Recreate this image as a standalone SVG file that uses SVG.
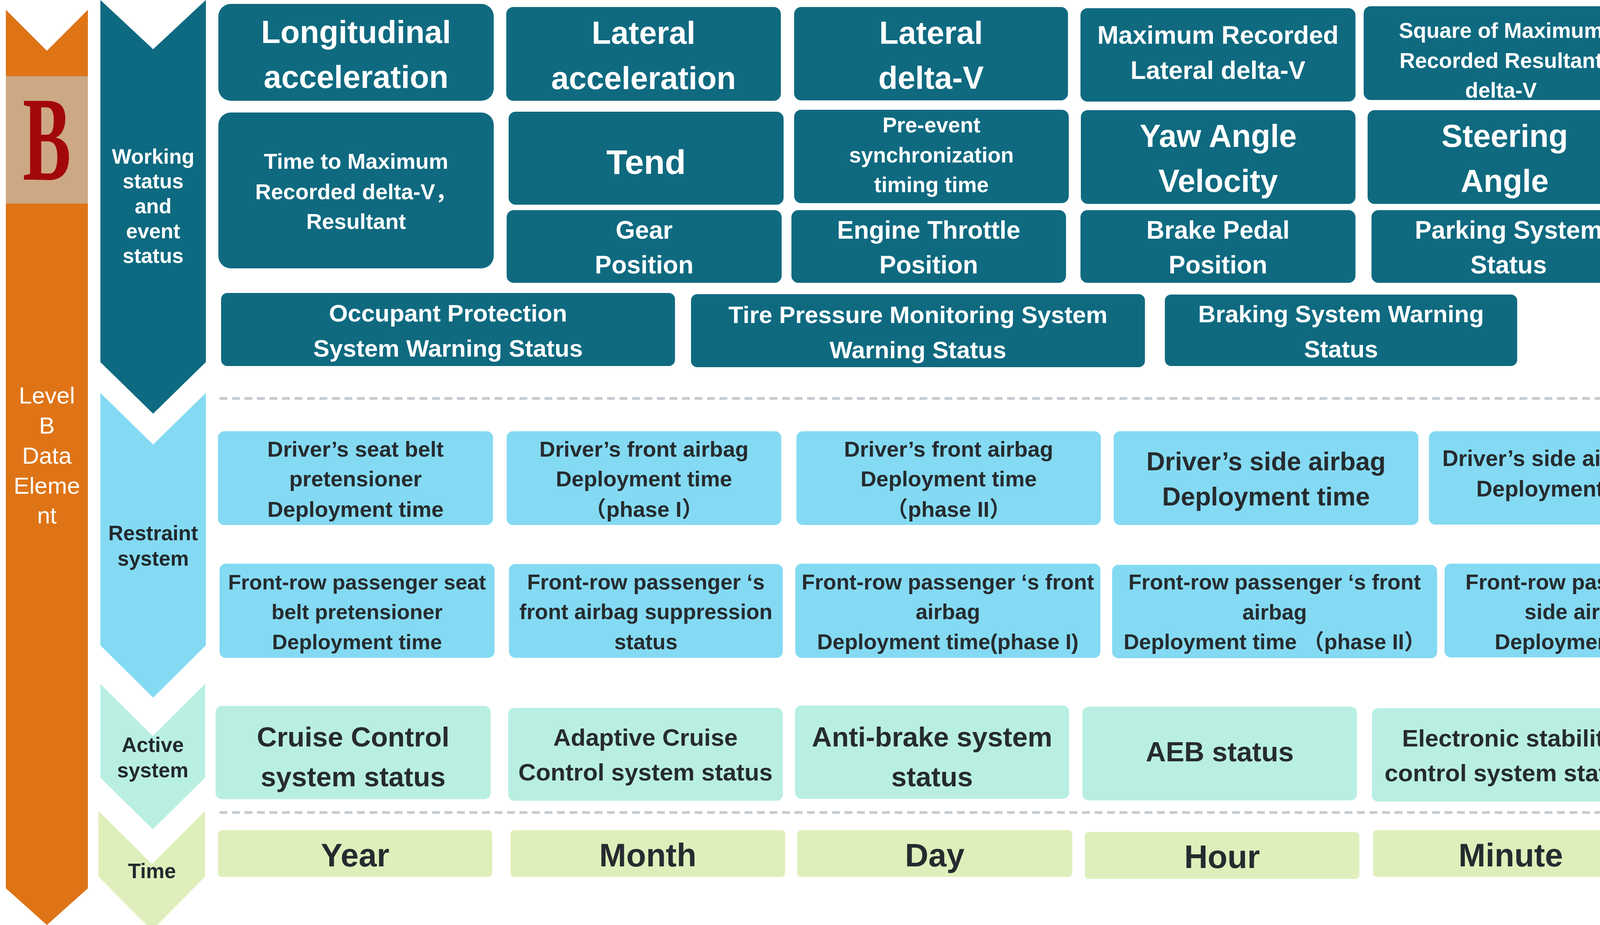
<svg xmlns="http://www.w3.org/2000/svg" width="5034" height="2368" viewBox="0 0 5034 2368" xml:space="preserve">
<style>
.bg{fill:#ffffff}
.n1{fill:#0F6A80}
.n2{fill:#84DAF2}
.n3{fill:#B9EFE2}
.n4{fill:#DFEFBB}
.tw{fill:#ffffff;font-family:"Liberation Sans","Noto Sans CJK SC",sans-serif;font-weight:bold;text-anchor:middle}
.td{fill:#262B2F;font-family:"Liberation Sans","Noto Sans CJK SC",sans-serif;font-weight:bold;text-anchor:middle}
.cw{fill:#ffffff;font-family:"Liberation Sans",sans-serif;font-weight:bold;font-size:53px;text-anchor:middle}
.cd{fill:#22292E;font-family:"Liberation Sans",sans-serif;font-weight:bold;font-size:53px;text-anchor:middle}
.lv{fill:#ffffff;font-family:"Liberation Sans",sans-serif;font-size:60px;text-anchor:middle}
.sep{stroke:#C5CBD0;stroke-width:7;stroke-dasharray:20 12;fill:none}
</style>
<rect class="bg" x="0" y="0" width="5034" height="2368"/>

<g id="level-b">
<polygon fill="#DF7417" points="15,25 120,130 225,25 225,2274 120,2368 15,2274"/>
<rect fill="#CDA885" x="15" y="195" width="210" height="326"/>
<text x="0" y="0" transform="translate(120,460) scale(0.6,1)" fill="#A30808" font-family="Liberation Serif,serif" font-weight="bold" font-size="308" text-anchor="middle">B</text>
<text class="lv" x="120" y="1033">Level</text>
<text class="lv" x="120" y="1110">B</text>
<text class="lv" x="120" y="1187">Data</text>
<text class="lv" x="120" y="1264">Eleme</text>
<text class="lv" x="120" y="1340">nt</text>
</g>

<g id="cat-working">
<polygon fill="#0E6A80" points="257,0 392,126 527,0 527,927 392,1059 257,927"/>
<text class="cw" x="392" y="419">Working</text>
<text class="cw" x="392" y="482">status</text>
<text class="cw" x="392" y="546">and</text>
<text class="cw" x="392" y="610">event</text>
<text class="cw" x="392" y="673">status</text>
</g>
<g id="cat-restraint">
<polygon fill="#84DAF2" points="257,1006 392,1138 527,1006 527,1652 392,1786 257,1652"/>
<text class="cd" x="392" y="1383">Restraint</text>
<text class="cd" x="392" y="1448">system</text>
</g>
<g id="cat-active">
<polygon fill="#B9EFE2" points="257,1751 391,1884 525,1751 525,1991 391,2123 257,1991"/>
<text class="cd" x="391" y="1925">Active</text>
<text class="cd" x="391" y="1990">system</text>
</g>
<g id="cat-time">
<polygon fill="#DFEFBB" points="252,2076 389,2212 525,2076 525,2244 389,2382 252,2244"/>
<text class="cd" x="389" y="2248">Time</text>
</g>

<g id="separators">
<line class="sep" x1="562" y1="1020" x2="4962" y2="1020"/>
<line class="sep" x1="562" y1="2080" x2="4962" y2="2080"/>
</g>

<g id="longitudinal-acceleration"><rect class="n1" x="559" y="10" width="705" height="248" rx="32"/>
<text class="tw" x="911.5" y="110" font-size="81">Longitudinal</text><text class="tw" x="911.5" y="225" font-size="81">acceleration</text></g>
<g id="lateral-acceleration"><rect class="n1" x="1296" y="18" width="703" height="240" rx="18"/>
<text class="tw" x="1647.5" y="112" font-size="81">Lateral</text><text class="tw" x="1647.5" y="228" font-size="81">acceleration</text></g>
<g id="lateral-delta-v"><rect class="n1" x="2033" y="18" width="701" height="239" rx="18"/>
<text class="tw" x="2383.5" y="112" font-size="81">Lateral</text><text class="tw" x="2383.5" y="227" font-size="81">delta-V</text></g>
<g id="max-lateral-delta-v"><rect class="n1" x="2766" y="21" width="704" height="239" rx="18"/>
<text class="tw" x="3118" y="112" font-size="65">Maximum Recorded</text><text class="tw" x="3118" y="202" font-size="65">Lateral delta-V</text></g>
<g id="square-max-resultant"><rect class="n1" x="3491" y="16" width="703" height="240" rx="18"/>
<text class="tw" x="3842.5" y="97" font-size="55">Square of Maximum</text><text class="tw" x="3842.5" y="174" font-size="55">Recorded Resultant</text><text class="tw" x="3842.5" y="250" font-size="55">delta-V</text></g>
<g id="time-max-lateral"><rect class="n1" x="4225" y="15" width="704" height="240" rx="18"/>
<text class="tw" x="4577" y="97" font-size="55">Time to Maximum</text><text class="tw" x="4577" y="174" font-size="55">Recorded delta-V</text><text class="tw" x="4577" y="250" font-size="55">lateral</text></g>

<g id="time-max-resultant"><rect class="n1" x="559" y="288" width="705" height="399" rx="32"/>
<text class="tw" x="911.5" y="432" font-size="56">Time to Maximum</text><text class="tw" x="911.5" y="510" font-size="56">Recorded delta-V，</text><text class="tw" x="911.5" y="586" font-size="56">Resultant</text></g>
<g id="tend"><rect class="n1" x="1302" y="286" width="704" height="238" rx="18"/>
<text class="tw" x="1654" y="445" font-size="88">Tend</text></g>
<g id="pre-event"><rect class="n1" x="2033" y="281" width="703" height="239" rx="18"/>
<text class="tw" x="2384.5" y="339" font-size="55">Pre-event</text><text class="tw" x="2384.5" y="416" font-size="55">synchronization</text><text class="tw" x="2384.5" y="492" font-size="55">timing time</text></g>
<g id="yaw-angle-velocity"><rect class="n1" x="2767" y="282" width="703" height="240" rx="18"/>
<text class="tw" x="3118.5" y="376" font-size="81">Yaw Angle</text><text class="tw" x="3118.5" y="491" font-size="81">Velocity</text></g>
<g id="steering-angle"><rect class="n1" x="3501" y="282" width="702" height="240" rx="18"/>
<text class="tw" x="3852" y="376" font-size="81">Steering</text><text class="tw" x="3852" y="491" font-size="81">Angle</text></g>
<g id="steering-lamp-status"><rect class="n1" x="4240" y="286" width="703" height="238" rx="18"/>
<text class="tw" x="4591.5" y="380" font-size="81">Steering Lamp</text><text class="tw" x="4591.5" y="494" font-size="81">Status</text></g>

<g id="gear-position"><rect class="n1" x="1297" y="538" width="704" height="186" rx="18"/>
<text class="tw" x="1649" y="611" font-size="64">Gear</text><text class="tw" x="1649" y="700" font-size="64">Position</text></g>
<g id="engine-throttle-position"><rect class="n1" x="2026" y="538" width="703" height="186" rx="18"/>
<text class="tw" x="2377.5" y="611" font-size="64">Engine Throttle</text><text class="tw" x="2377.5" y="700" font-size="64">Position</text></g>
<g id="brake-pedal-position"><rect class="n1" x="2766" y="538" width="704" height="186" rx="18"/>
<text class="tw" x="3118" y="611" font-size="64">Brake Pedal</text><text class="tw" x="3118" y="700" font-size="64">Position</text></g>
<g id="parking-system-status"><rect class="n1" x="3511" y="538" width="702" height="186" rx="18"/>
<text class="tw" x="3862" y="611" font-size="64">Parking System</text><text class="tw" x="3862" y="700" font-size="64">Status</text></g>

<g id="occupant-protection"><rect class="n1" x="566" y="750" width="1162" height="187" rx="16"/>
<text class="tw" x="1147" y="823" font-size="62">Occupant Protection</text><text class="tw" x="1147" y="913" font-size="62">System Warning Status</text></g>
<g id="tpms"><rect class="n1" x="1769" y="753" width="1162" height="187" rx="16"/>
<text class="tw" x="2350" y="827" font-size="62">Tire Pressure Monitoring System</text><text class="tw" x="2350" y="917" font-size="62">Warning Status</text></g>
<g id="braking-system-warning"><rect class="n1" x="2982" y="754" width="902" height="183" rx="16"/>
<text class="tw" x="3433" y="825" font-size="62">Braking System Warning</text><text class="tw" x="3433" y="915" font-size="62">Status</text></g>

<g id="driver-seat-belt-pretensioner"><rect class="n2" x="558" y="1104" width="704" height="240" rx="16"/>
<text class="td" x="910" y="1169" font-size="56">Driver’s  seat  belt</text><text class="td" x="910" y="1245" font-size="56">pretensioner</text><text class="td" x="910" y="1323" font-size="56">Deployment time</text></g>
<g id="driver-front-airbag-1"><rect class="n2" x="1297" y="1104" width="703" height="240" rx="16"/>
<text class="td" x="1648.5" y="1169" font-size="56">Driver’s  front airbag</text><text class="td" x="1648.5" y="1245" font-size="56">Deployment time</text><text class="td" x="1648.5" y="1323" font-size="56">（phase I）</text></g>
<g id="driver-front-airbag-2"><rect class="n2" x="2039" y="1104" width="779" height="240" rx="16"/>
<text class="td" x="2428.5" y="1169" font-size="56">Driver’s  front airbag</text><text class="td" x="2428.5" y="1245" font-size="56">Deployment time</text><text class="td" x="2428.5" y="1323" font-size="56">（phase II）</text></g>
<g id="driver-side-airbag"><rect class="n2" x="2851" y="1104" width="780" height="240" rx="16"/>
<text class="td" x="3241" y="1204" font-size="66">Driver’s  side  airbag</text><text class="td" x="3241" y="1294" font-size="66">Deployment time</text></g>
<g id="driver-side-air-curtain"><rect class="n2" x="3658" y="1104" width="702" height="239" rx="16"/>
<text class="td" x="4009" y="1193" font-size="57">Driver’s  side  air curtain</text><text class="td" x="4009" y="1271" font-size="57">Deployment time</text></g>
<g id="passenger-seat-belt-status"><rect class="n2" x="4396" y="1095" width="595" height="240" rx="16"/>
<text class="td" x="4693.5" y="1202" font-size="56">Front-row passenger</text><text class="td" x="4693.5" y="1279" font-size="56">seat  belt  Status</text></g>

<g id="passenger-seat-belt-pretensioner"><rect class="n2" x="562" y="1443" width="704" height="241" rx="16"/>
<text class="td" x="914" y="1509" font-size="54">Front-row passenger  seat</text><text class="td" x="914" y="1585" font-size="54">belt  pretensioner</text><text class="td" x="914" y="1662" font-size="54">Deployment time</text></g>
<g id="passenger-front-airbag-suppression"><rect class="n2" x="1303" y="1444" width="701" height="240" rx="16"/>
<text class="td" x="1653.5" y="1509" font-size="55">Front-row passenger ‘s</text><text class="td" x="1653.5" y="1585" font-size="55">front airbag suppression</text><text class="td" x="1653.5" y="1662" font-size="55">status</text></g>
<g id="passenger-front-airbag-1"><rect class="n2" x="2036" y="1443" width="781" height="241" rx="16"/>
<text class="td" x="2426.5" y="1509" font-size="55">Front-row passenger ‘s front</text><text class="td" x="2426.5" y="1585" font-size="55">airbag</text><text class="td" x="2426.5" y="1662" font-size="55">Deployment time(phase I)</text></g>
<g id="passenger-front-airbag-2"><rect class="n2" x="2847" y="1446" width="832" height="239" rx="16"/>
<text class="td" x="3263" y="1509" font-size="55">Front-row passenger ‘s front</text><text class="td" x="3263" y="1586" font-size="55">airbag</text><text class="td" x="3263" y="1662" font-size="55">Deployment time （phase II）</text></g>
<g id="passenger-side-airbag"><rect class="n2" x="3698" y="1443" width="700" height="240" rx="16"/>
<text class="td" x="4048" y="1509" font-size="55">Front-row passenger’s</text><text class="td" x="4048" y="1585" font-size="55">side  airbag</text><text class="td" x="4048" y="1662" font-size="55">Deployment time</text></g>
<g id="passenger-side-air-curtain"><rect class="n2" x="4417" y="1445" width="640" height="240" rx="16"/>
<text class="td" x="4730" y="1509" font-size="55">Front-row passenger’s</text><text class="td" x="4730" y="1585" font-size="55">side  air curtain</text><text class="td" x="4730" y="1662" font-size="55">Deployment time</text></g>

<g id="cruise-control"><rect class="n3" x="552" y="1807" width="704" height="239" rx="16"/>
<text class="td" x="904" y="1911" font-size="71">Cruise Control</text><text class="td" x="904" y="2013" font-size="71">system status</text></g>
<g id="adaptive-cruise-control"><rect class="n3" x="1301" y="1812" width="703" height="238" rx="16"/>
<text class="td" x="1652.5" y="1909" font-size="62">Adaptive Cruise</text><text class="td" x="1652.5" y="1998" font-size="62">Control system status</text></g>
<g id="anti-brake-system"><rect class="n3" x="2035" y="1806" width="702" height="239" rx="16"/>
<text class="td" x="2386" y="1911" font-size="71">Anti-brake system</text><text class="td" x="2386" y="2013" font-size="71">status</text></g>
<g id="aeb-status"><rect class="n3" x="2771" y="1809" width="703" height="240" rx="16"/>
<text class="td" x="3122.5" y="1949" font-size="71">AEB  status</text></g>
<g id="electronic-stability-control"><rect class="n3" x="3512" y="1813" width="706" height="239" rx="16"/>
<text class="td" x="3865" y="1911" font-size="62">Electronic stability</text><text class="td" x="3865" y="2000" font-size="62">control system status</text></g>
<g id="traction-control"><rect class="n3" x="4243" y="1809" width="705" height="240" rx="16"/>
<text class="td" x="4595.5" y="1902" font-size="71">Traction control</text><text class="td" x="4595.5" y="2005" font-size="71">system status</text></g>

<g id="year"><rect class="n4" x="558" y="2125" width="702" height="120" rx="10"/>
<text class="td" x="909" y="2218" font-size="83">Year</text></g>
<g id="month"><rect class="n4" x="1307" y="2125" width="703" height="120" rx="10"/>
<text class="td" x="1658.5" y="2218" font-size="83">Month</text></g>
<g id="day"><rect class="n4" x="2041" y="2125" width="704" height="120" rx="10"/>
<text class="td" x="2393" y="2218" font-size="83">Day</text></g>
<g id="hour"><rect class="n4" x="2777" y="2130" width="703" height="120" rx="10"/>
<text class="td" x="3128.5" y="2222" font-size="83">Hour</text></g>
<g id="minute"><rect class="n4" x="3515" y="2125" width="705" height="120" rx="10"/>
<text class="td" x="3867.5" y="2218" font-size="83">Minute</text></g>
<g id="second"><rect class="n4" x="4249" y="2130" width="702" height="120" rx="10"/>
<text class="td" x="4600" y="2223" font-size="83">Second</text></g>

<g id="page-number">
<text x="4777" y="2351" fill="#0070C0" font-family="Liberation Sans,sans-serif" font-weight="bold" font-size="77" text-anchor="middle">4</text>
</g>
</svg>
